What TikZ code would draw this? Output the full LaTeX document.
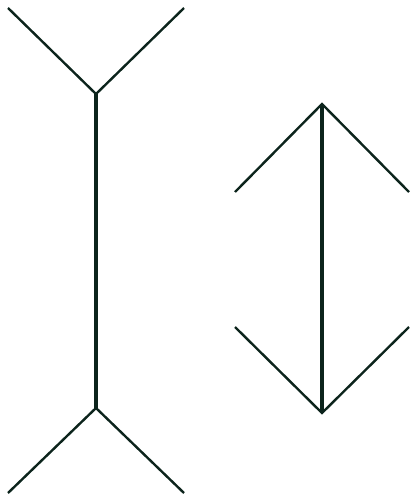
\documentclass[tikz,border=0pt]{standalone}
\usetikzlibrary{positioning}

\begin{document}
\begin{tikzpicture}[
    x=0.05cm, y=-0.05cm,
    fin/.style={draw=ink, line width=3.4pt},
    shaft/.style={draw=ink, line width=5.6pt}
]
\definecolor{ink}{RGB}{12,36,28}

\useasboundingbox (0,0) rectangle (412,499);

\coordinate (lt) at (96,94);
\coordinate (lb) at (96,408);
\coordinate (ltl) at (8,8);
\coordinate (ltr) at (184,8);
\coordinate (lbl) at (8,493);
\coordinate (lbr) at (184,493);

\coordinate (rt) at (322,104);
\coordinate (rb) at (322,413);
\coordinate (rtl) at (235,192);
\coordinate (rtr) at (409,192);
\coordinate (rbl) at (235,327);
\coordinate (rbr) at (409,327);

\draw[shaft] (lt) -- (lb);
\draw[fin] (ltl) -- (lt) -- (ltr);
\draw[fin] (lbl) -- (lb) -- (lbr);

\draw[shaft] (rt) -- (rb);
\draw[fin] (rtl) -- (rt) -- (rtr);
\draw[fin] (rbl) -- (rb) -- (rbr);
\end{tikzpicture}
\end{document}
